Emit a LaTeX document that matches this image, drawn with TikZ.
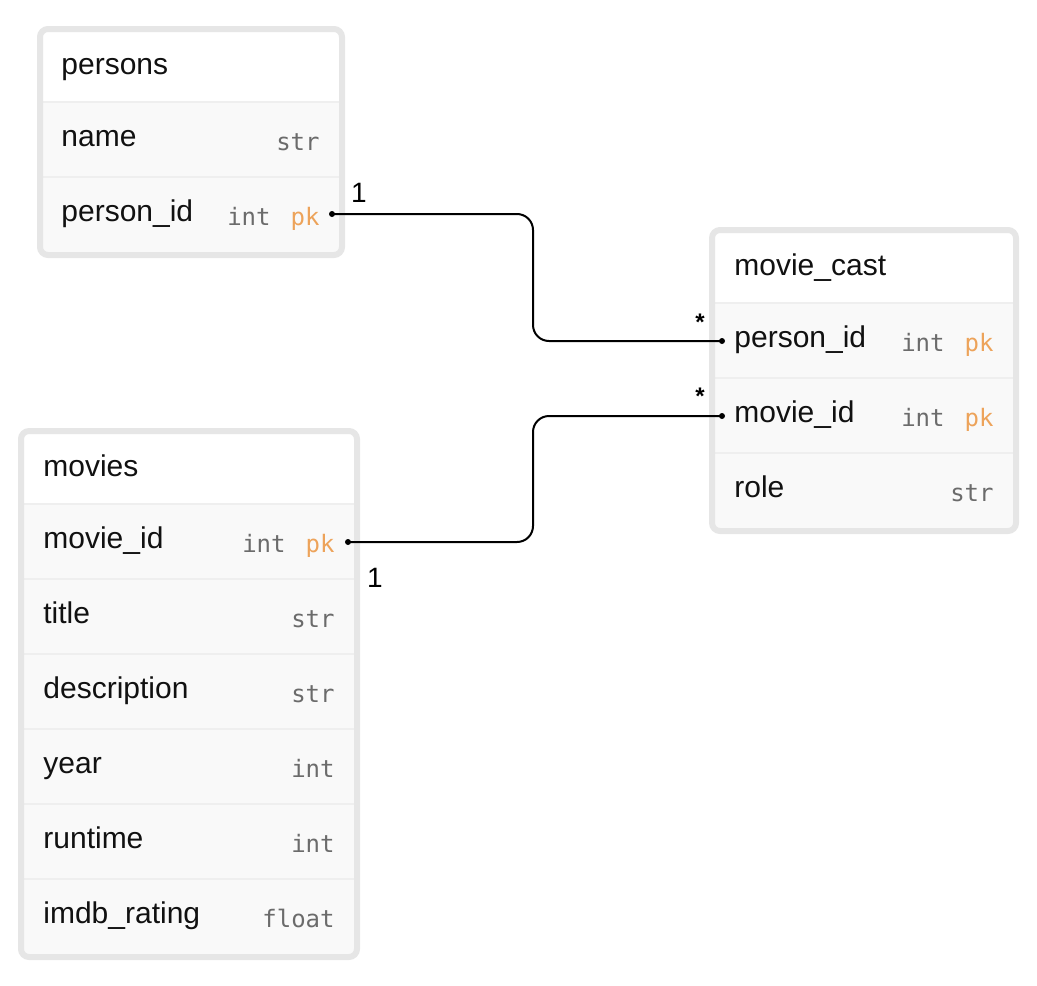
\documentclass[tikz,border=0pt]{standalone}
\usepackage{fontspec}
\setsansfont{Liberation Sans}
\setmonofont{DejaVu Sans Mono}
\definecolor{tblgray}{HTML}{E6E6E6}
\definecolor{rowfill}{HTML}{F9F9F9}
\definecolor{rowline}{HTML}{EFEFEF}
\definecolor{typgray}{HTML}{6B6B6B}
\definecolor{pkorange}{HTML}{EDA35A}
\definecolor{txtblack}{HTML}{111111}
\tikzset{
	tblborder/.style={draw=tblgray,line width=3pt,rounded corners=4pt},
	sepline/.style={draw=rowline,line width=.8pt},
	hdr/.style={anchor=base west,inner sep=0pt,text=txtblack,font=\sffamily\fontsize{15}{17}\selectfont},
	fld/.style={hdr},
	typ/.style={anchor=base east,inner sep=0pt,text=typgray,font=\ttfamily\fontsize{12}{14}\selectfont},
	pk/.style={typ,text=pkorange},
	dot/.style={circle,fill=black,inner sep=0pt,minimum size=3pt},
	conn/.style={line width=1pt,rounded corners=8pt},
	card/.style={anchor=base,inner sep=0pt,font=\sffamily\fontsize{14}{16}\selectfont},
	many/.style={anchor=base,inner sep=0pt,font=\sffamily\bfseries\fontsize{12}{14}\selectfont}
}
\begin{document}
\begin{tikzpicture}[x=.5pt,y=-.5pt]
	\useasboundingbox (0,0) rectangle (1037,985);
	
	%Bang persons
	\fill[rowfill] (43,32) rectangle (339,252);
	\fill[white] (43,32) rectangle (339,102);
	\foreach \y in {102,177} \draw[sepline] (43,\y)--(339,\y);
	\draw[tblborder] (40,29) rectangle (342,255);
	\node[hdr] (persons) at (61,74) {persons};
	\node[fld] (persons-name) at (61,146) {name};
	\node[typ] (persons-name-t) at (320,150) {str};
	\node[fld] (persons-pid) at (61,221) {person\_id};
	\node[typ] (persons-pid-t) at (271,225) {int};
	\node[pk] (persons-pid-k) at (320,225) {pk};
	\node[dot] (persons-pid-dot) at (332,214) {};
	
	%Bang movie_cast
	\fill[rowfill] (715,233) rectangle (1013,528);
	\fill[white] (715,233) rectangle (1013,303);
	\foreach \y in {303,378,453} \draw[sepline] (715,\y)--(1013,\y);
	\draw[tblborder] (712,230) rectangle (1016,531);
	\node[hdr] (cast) at (734,275) {movie\_cast};
	\node[fld] (cast-pid) at (734,347) {person\_id};
	\node[typ] (cast-pid-t) at (945,351) {int};
	\node[pk] (cast-pid-k) at (994,351) {pk};
	\node[fld] (cast-mid) at (734,422) {movie\_id};
	\node[typ] (cast-mid-t) at (945,426) {int};
	\node[pk] (cast-mid-k) at (994,426) {pk};
	\node[fld] (cast-role) at (734,497) {role};
	\node[typ] (cast-role-t) at (994,501) {str};
	\node[dot] (cast-pid-dot) at (722,341) {};
	\node[dot] (cast-mid-dot) at (722,416) {};
	
	%Bang movies
	\fill[rowfill] (24,434) rectangle (354,954);
	\fill[white] (24,434) rectangle (354,504);
	\foreach \y in {504,579,654,729,804,879} \draw[sepline] (24,\y)--(354,\y);
	\draw[tblborder] (21,431) rectangle (357,957);
	\node[hdr] (movies) at (43,476) {movies};
	\node[fld] (movies-mid) at (43,548) {movie\_id};
	\node[typ] (movies-mid-t) at (286,552) {int};
	\node[pk] (movies-mid-k) at (335,552) {pk};
	\node[fld] (movies-title) at (43,623) {title};
	\node[typ] (movies-title-t) at (335,627) {str};
	\node[fld] (movies-desc) at (43,698) {description};
	\node[typ] (movies-desc-t) at (335,702) {str};
	\node[fld] (movies-year) at (43,773) {year};
	\node[typ] (movies-year-t) at (335,777) {int};
	\node[fld] (movies-rt) at (43,848) {runtime};
	\node[typ] (movies-rt-t) at (335,852) {int};
	\node[fld] (movies-imdb) at (43,923) {imdb\_rating};
	\node[typ] (movies-imdb-t) at (335,927) {float};
	\node[dot] (movies-mid-dot) at (348,542) {};
	
	%---------------duong noi
	\coordinate (bend) at (533,0);
	\draw[conn] (persons-pid-dot.center) -| (bend |- cast-pid-dot) -- (cast-pid-dot.center);
	\draw[conn] (movies-mid-dot.center) -| (bend |- cast-mid-dot) -- (cast-mid-dot.center);
	\node[card] (persons-one) at (359,202) {1};
	\node[card] (movies-one) at (375,587) {1};
	\node[many] (cast-pid-many) at (700,330) {*};
	\node[many] (cast-mid-many) at (700,404) {*};
\end{tikzpicture}
\end{document}
